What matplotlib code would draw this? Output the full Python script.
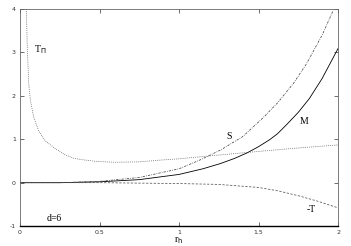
import matplotlib
matplotlib.use("Agg")
import matplotlib.pyplot as plt

# values
m_x = [0.0, 0.25, 0.5, 0.75, 1.0, 1.15, 1.26, 1.35, 1.43, 1.5, 1.57, 1.62, 1.68, 1.75, 1.82, 1.9, 2.0]
m_y = [0.0, 0.0, 0.02, 0.07, 0.19, 0.32, 0.44, 0.56, 0.69, 0.83, 0.99, 1.13, 1.35, 1.62, 1.94, 2.4, 3.09]

s_x = [0.0, 0.25, 0.5, 0.75, 1.0, 1.13, 1.26, 1.4, 1.53, 1.62, 1.72, 1.8, 1.9, 1.97]
s_y = [0.0, 0.0, 0.03, 0.12, 0.32, 0.52, 0.75, 1.06, 1.5, 1.84, 2.29, 2.73, 3.4, 3.97]

tp_x = [0.04, 0.045, 0.055, 0.066, 0.087, 0.118, 0.16, 0.22, 0.286, 0.34, 0.39, 0.48,
        0.6, 0.75, 0.88, 1.0, 1.26, 1.5, 1.75, 2.0]
tp_y = [4.0, 3.2, 2.27, 1.88, 1.5, 1.19, 0.96, 0.79, 0.64, 0.56, 0.53, 0.49,
        0.47, 0.48, 0.52, 0.55, 0.64, 0.72, 0.8, 0.87]

t_x = [0.0, 0.5, 0.75, 1.0, 1.25, 1.5, 1.625, 1.75, 1.875, 2.0]
t_y = [0.0, 0.0, -0.01, -0.02, -0.04, -0.11, -0.19, -0.3, -0.43, -0.58]

x_ticks = [0, 0.5, 1, 1.5, 2]
x_tick_labels = ["0", "0.5", "1", "1.5", "2"]
y_ticks = [-1, 0, 1, 2, 3, 4]
y_tick_labels = ["-1", "0", "1", "2", "3", "4"]

fig = plt.figure(figsize=(3.51, 2.46), dpi=100)
ax = fig.add_axes([0.057, 0.081, 0.906, 0.882])

ax.plot(m_x, m_y, color="black", lw=0.6, ls="-")
ax.plot(s_x, s_y, color="#444444", lw=0.55, ls=(0, (3, 1.5, 1, 1.5)))
ax.plot(tp_x, tp_y, color="#555555", lw=0.55, ls=(0, (1, 1.5)))
ax.plot(t_x, t_y, color="#555555", lw=0.55, ls=(0, (3, 2)))

ax.set_xlim(0, 2)
ax.set_ylim(-1, 4)
ax.set_xticks(x_ticks)
ax.set_xticklabels(x_tick_labels)
ax.set_yticks(y_ticks)
ax.set_yticklabels(y_tick_labels)
ax.tick_params(direction="in", length=3, width=0.5, labelsize=4.5,
               top=True, right=True, pad=3, colors="#333333")

for side in ["top", "left", "right"]:
    ax.spines[side].set_color("#666666")
    ax.spines[side].set_linewidth(0.6)
ax.spines["bottom"].set_color("black")
ax.spines["bottom"].set_linewidth(1.0)

serif = {"family": "Liberation Serif", "size": 7}
ax.text(0.09, 3.0, r"T$_{\Pi}$", fontdict=serif)
ax.text(1.3, 1.0, "S", fontdict=serif)
ax.text(1.76, 1.35, "M", fontdict=serif)
ax.text(1.8, -0.67, "-T", fontdict=serif)
ax.text(0.17, -0.88, "d=6", fontdict=serif)
ax.set_xlabel(r"r$_{\rm h}$", fontdict=serif, labelpad=0)

fig.savefig("out.png", dpi=100)
